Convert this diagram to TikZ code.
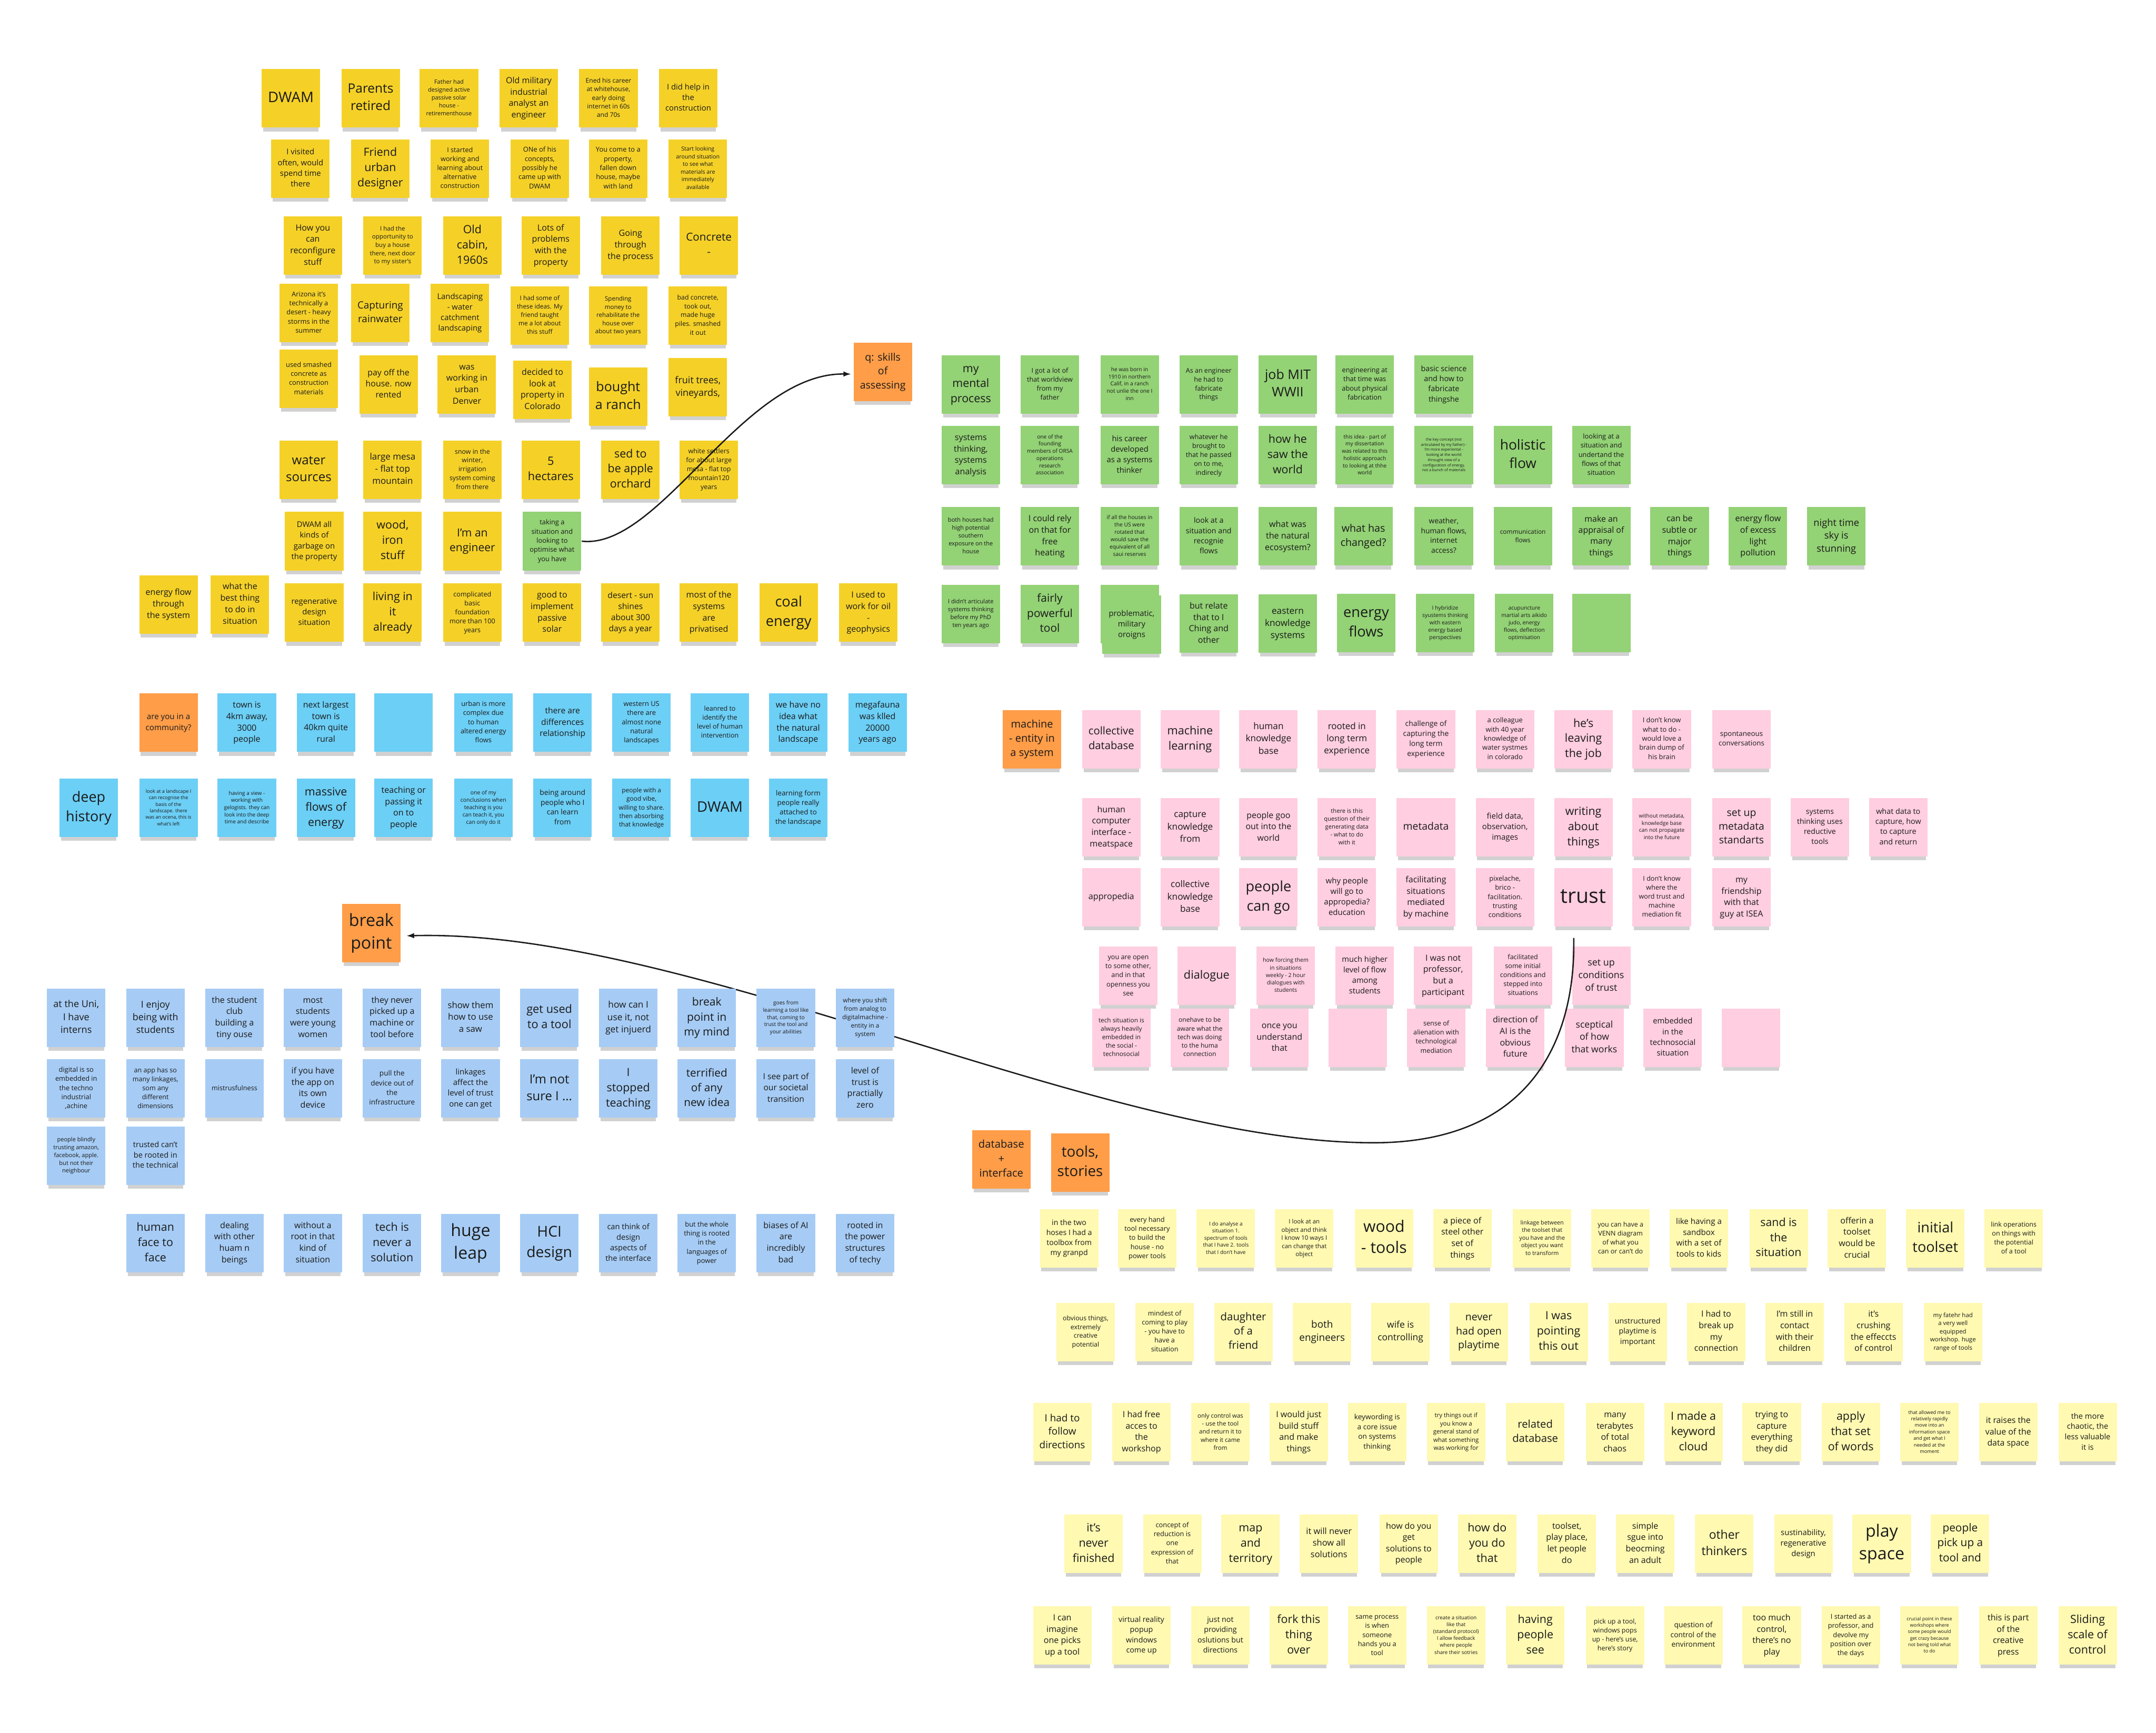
\documentclass[tikz,border=0pt]{standalone}
\usepackage{fontspec}
\setmainfont{Open Sans}
\usepackage{graphicx}
\usetikzlibrary{shadows,arrows.meta}

\definecolor{stickyyellow}{HTML}{F5D128}
\definecolor{stickylight}{HTML}{FFF9B1}
\definecolor{stickygreen}{HTML}{93D275}
\definecolor{stickycyan}{HTML}{6CCFF6}
\definecolor{stickyblue}{HTML}{A6CCF5}
\definecolor{stickypink}{HTML}{FFCEE0}
\definecolor{stickyorange}{HTML}{FF9D48}
\definecolor{ink}{HTML}{1A1A1A}

% text of a note is scaled to fill the note, like the board does
\newsavebox\notebox
\newdimen\notetw \notetw=0.83cm
\newdimen\noteth \noteth=0.83cm
\newdimen\fitw
\newcommand\fitnote[1]{%
  \sbox\notebox{\fontsize{10}{13.5}\selectfont
    \begin{tabular}{@{}c@{}}#1\end{tabular}}%
  \fitw=\dimexpr\wd\notebox*\numexpr\noteth\relax
        /\numexpr\ht\notebox+\dp\notebox\relax\relax
  \ifdim\fitw>\notetw \fitw=\notetw\fi
  \resizebox{\fitw}{!}{\usebox\notebox}}

\begin{document}
\begin{tikzpicture}[
    x=0.025cm, y=-0.025cm,
    note/.style={anchor=north west, minimum width=1.0625cm,
                 minimum height=1.0625cm, inner sep=0pt, text=ink,
                 general shadow={fill=black, opacity=0.18,
                   shadow yshift=-0.1cm, shadow scale=0.95}},
    ynote/.style={note, fill=stickyyellow},
    lnote/.style={note, fill=stickylight},
    gnote/.style={note, fill=stickygreen},
    cnote/.style={note, fill=stickycyan},
    bnote/.style={note, fill=stickyblue},
    pnote/.style={note, fill=stickypink},
    onote/.style={note, fill=stickyorange},
    link/.style={ink, line width=0.7pt},
    tip/.style={-{Latex[length=4pt, width=2.8pt]}}
]

\fill[white] (0,0) rectangle (1568,1260);
\useasboundingbox (0,0) rectangle (1568,1260);

% ---------- yellow: the place ----------
\foreach \x/\txt [count=\i] in {
  190/{DWAM},
  248/{Parents\\retired},
  305/{Father had\\designed active\\passive solar\\house -\\retirementhouse},
  363/{Old military\\industrial\\analyst an\\engineer},
  421/{Ened his career\\at whitehouse,\\early doing\\internet in 60s\\and 70s},
  479/{I did help in\\the\\construction}}
  \node[ynote] (ya\i) at (\x,50) {\fitnote{\txt}};

\foreach \x/\txt [count=\i] in {
  197/{I visited\\often, would\\spend time\\there},
  255/{Friend\\urban\\designer},
  313/{I started\\working and\\learning about\\alternative\\construction},
  371/{ONe of his\\concepts,\\possibly he\\came up with\\DWAM},
  428/{You come to a\\property,\\fallen down\\house, maybe\\with land},
  486/{Start looking\\around situation\\to see what\\materials are\\immediately\\available}}
  \node[ynote] (yb\i) at (\x,101) {\fitnote{\txt}};

\foreach \x/\txt [count=\i] in {
  206/{How you\\can\\reconfigure\\stuff},
  264/{I had the\\opportunity to\\buy a house\\there, next door\\to my sister's},
  322/{Old\\cabin,\\1960s},
  379/{Lots of\\problems\\with the\\property},
  437/{Going\\through\\the process},
  494/{Concrete\\-}}
  \node[ynote] (yc\i) at (\x,157) {\fitnote{\txt}};

\foreach \x/\y/\txt [count=\i] in {
  203/206/{Arizona it's\\technically a\\desert - heavy\\storms in the\\summer},
  255/206/{Capturing\\rainwater},
  313/206/{Landscaping\\- water\\catchment\\landscaping},
  371/208/{I had some of\\these ideas. My\\friend taught\\me a lot about\\this stuff},
  428/208/{Spending\\money to\\rehabilitate the\\house over\\about two years},
  486/208/{bad concrete,\\took out,\\made huge\\piles. smashed\\it out}}
  \node[ynote] (yd\i) at (\x,\y) {\fitnote{\txt}};

\foreach \x/\y/\txt [count=\i] in {
  203/254/{used smashed\\concrete as\\construction\\materials},
  261/258/{pay off the\\house. now\\rented},
  318/258/{was\\working in\\urban\\Denver},
  373/262/{decided to\\look at\\property in\\Colorado},
  428/267/{bought\\a ranch},
  486/260/{fruit trees,\\vineyards,}}
  \node[ynote] (ye\i) at (\x,\y) {\fitnote{\txt}};

\foreach \x/\txt [count=\i] in {
  203/{water\\sources},
  264/{large mesa\\- flat top\\mountain},
  322/{snow in the\\winter,\\irrigation\\system coming\\from there},
  379/{5\\hectares},
  437/{sed to\\be apple\\orchard},
  494/{white settlers\\for about large\\mesa - flat top\\mountain120\\years}}
  \node[ynote] (yf\i) at (\x,320) {\fitnote{\txt}};

\foreach \x/\txt [count=\i] in {
  207/{DWAM all\\kinds of\\garbage on\\the property},
  264/{wood,\\iron\\stuff},
  322/{I'm an\\engineer}}
  \node[ynote] (yg\i) at (\x,372) {\fitnote{\txt}};
\node[gnote] (taking) at (380,372)
  {\fitnote{taking a\\situation and\\looking to\\optimise what\\you have}};

\foreach \x/\y/\txt [count=\i] in {
  101/418/{energy flow\\through\\the system},
  153/418/{what the\\best thing\\to do in\\situation},
  207/424/{regenerative\\design\\situation},
  264/424/{living in\\it\\already},
  322/424/{complicated\\basic\\foundation\\more than 100\\years},
  380/424/{good to\\implement\\passive\\solar},
  437/424/{desert - sun\\shines\\about 300\\days a year},
  494/424/{most of the\\systems\\are\\privatised},
  552/424/{coal\\energy},
  610/424/{I used to\\work for oil\\-\\geophysics}}
  \node[ynote] (yh\i) at (\x,\y) {\fitnote{\txt}};

\node[onote] (skills) at (620.5,249) {\fitnote{q: skills\\of\\assessing}};

% ---------- green: systems thinking ----------
\foreach \x/\txt [count=\i] in {
  684.5/{my\\mental\\process},
  742/{I got a lot of\\that worldview\\from my\\father},
  800/{he was born in\\1910 in northern\\Calif, in a ranch\\not unlie the one I\\inn},
  857.5/{As an engineer\\he had to\\fabricate\\things},
  915/{job MIT\\WWII},
  971/{engineering at\\that time was\\about physical\\fabrication},
  1028.5/{basic science\\and how to\\fabricate\\thingshe}}
  \node[gnote] (ga\i) at (\x,258) {\fitnote{\txt}};

\foreach \x/\txt [count=\i] in {
  684.5/{systems\\thinking,\\systems\\analysis},
  742/{one of the\\founding\\members of ORSA\\operations\\research\\association},
  800/{his career\\developed\\as a systems\\thinker},
  857.5/{whatever he\\brought to\\that he passed\\on to me,\\indirecly},
  915/{how he\\saw the\\world},
  971/{this idea - part of\\my dissertation\\was related to this\\holistic approach\\to looking at thhe\\world},
  1028.5/{the key concept (not\\articulated by my father) -\\I'm more experiental -\\looking at the world\\throught view of a\\configuration of energy,\\not a bunch of materials},
  1086/{holistic\\flow},
  1143/{looking at a\\situation and\\undertand the\\flows of that\\situation}}
  \node[gnote] (gb\i) at (\x,309.5) {\fitnote{\txt}};

\foreach \x/\txt [count=\i] in {
  684.5/{both houses had\\high potential\\southern\\exposure on the\\house},
  742/{I could rely\\on that for\\free\\heating},
  800/{if all the houses in\\the US were\\rotated that\\would save the\\equivalent of all\\saui reserves},
  857.5/{look at a\\situation and\\recognie\\flows},
  915/{what was\\the natural\\ecosystem?},
  970/{what has\\changed?},
  1028.5/{weather,\\human flows,\\internet\\access?},
  1086/{communication\\flows},
  1143/{make an\\appraisal of\\many\\things},
  1200/{can be\\subtle or\\major\\things},
  1257/{energy flow\\of excess\\light\\pollution},
  1314/{night time\\sky is\\stunning}}
  \node[gnote] (gc\i) at (\x,368.5) {\fitnote{\txt}};

\foreach \x/\y/\txt [count=\i] in {
  684.5/425/{I didn't articulate\\systems thinking\\before my PhD\\ten years ago},
  742/425/{fairly\\powerful\\tool},
  857.5/432/{but relate\\that to I\\Ching and\\other},
  915/432/{eastern\\knowledge\\systems},
  972/431.5/{energy\\flows},
  1029.5/431.5/{I hybridize\\syustems thinking\\with eastern\\energy based\\perspectives},
  1087/431.5/{acupuncture\\martial arts aikido\\judo, energy\\flows, deflection\\optimisation}}
  \node[gnote] (gd\i) at (\x,\y) {\fitnote{\txt}};
\node[gnote] (gback) at (800,425) {};
\node[gnote] (gfront) at (801.5,432.5) {\fitnote{problematic,\\military\\oroigns}};
\node[gnote] (gblank) at (1143,431.5) {};

% ---------- cyan: landscape ----------
\node[onote] (community) at (101,504) {\fitnote{are you in a\\community?}};
\foreach \x/\txt [count=\i] in {
  158/{town is\\4km away,\\3000\\people},
  215.5/{next largest\\town is\\40km quite\\rural},
  330/{urban is more\\complex due\\to human\\altered energy\\flows},
  387.6/{there are\\differences\\relationship},
  445/{western US\\there are\\almost none\\natural\\landscapes},
  502/{leanred to\\identify the\\level of human\\intervention},
  559/{we have no\\idea what\\the natural\\landscape},
  616.7/{megafauna\\was klled\\20000\\years ago}}
  \node[cnote] (ca\i) at (\x,504) {\fitnote{\txt}};
\node[cnote] (cblank) at (272,504) {};

\foreach \x/\txt [count=\i] in {
  43/{deep\\history},
  101/{look at a landscape I\\can recognise the\\basis of the\\landscape. there\\was an ocena, this is\\what's left},
  158/{having a view -\\working with\\gelogists. they can\\look into the deep\\time and describe},
  215.5/{massive\\flows of\\energy},
  272/{teaching or\\passing it\\on to\\people},
  330/{one of my\\conclusions when\\teaching is you\\can teach it, you\\can only do it},
  387.6/{being around\\people who I\\can learn\\from},
  445/{people with a\\good vibe,\\willing to share.\\then absorbing\\that knowledge},
  502/{DWAM},
  559/{learning form\\people really\\attached to\\the landscape}}
  \node[cnote] (cb\i) at (\x,566) {\fitnote{\txt}};

% ---------- pink: knowledge and trust ----------
\node[onote] (machine) at (729,516) {\fitnote{machine\\- entity in\\a system}};
\foreach \x/\txt [count=\i] in {
  786.7/{collective\\database},
  844/{machine\\learning},
  901/{human\\knowledge\\base},
  958/{rooted in\\long term\\experience},
  1015.5/{challenge of\\capturing the\\long term\\experience},
  1073/{a colleague\\with 40 year\\knowledge of\\water systmes\\in colorado},
  1130/{he's\\leaving\\the job},
  1187/{I don't know\\what to do -\\would love a\\brain dump of\\his brain},
  1245/{spontaneous\\conversations}}
  \node[pnote] (pa\i) at (\x,516) {\fitnote{\txt}};

\foreach \x/\txt [count=\i] in {
  786.7/{human\\computer\\interface -\\meatspace},
  844/{capture\\knowledge\\from},
  901/{people goo\\out into the\\world},
  958/{there is this\\question of their\\generating data\\- what to do\\with it},
  1015.5/{metadata},
  1073/{field data,\\observation,\\images},
  1130/{writing\\about\\things},
  1187/{without metadata,\\knowledge base\\can not propagate\\into the future},
  1245/{set up\\metadata\\standarts},
  1302/{systems\\thinking uses\\reductive\\tools},
  1359/{what data to\\capture, how\\to capture\\and return}}
  \node[pnote] (pb\i) at (\x,580) {\fitnote{\txt}};

\foreach \x/\txt [count=\i] in {
  786.7/{appropedia},
  844/{collective\\knowledge\\base},
  901/{people\\can go},
  958/{why people\\will go to\\appropedia?\\education},
  1015.5/{facilitating\\situations\\mediated\\by machine},
  1073/{pixelache,\\brico -\\facilitation.\\trusting\\conditions},
  1187/{I don't know\\where the\\word trust and\\machine\\mediation fit},
  1245/{my\\friendship\\with that\\guy at ISEA}}
  \node[pnote] (pc\i) at (\x,631) {\fitnote{\txt}};
\node[pnote] (trust) at (1130,631) {\fitnote{trust}};

\foreach \x/\txt [count=\i] in {
  799/{you are open\\to some other,\\and in that\\openness you\\see},
  856/{dialogue},
  913.5/{how forcing them\\in situations\\weekly - 2 hour\\dialogues with\\students},
  971/{much higher\\level of flow\\among\\students},
  1028/{I was not\\professor,\\but a\\participant},
  1086/{facilitated\\some initial\\conditions and\\stepped into\\situations},
  1143/{set up\\conditions\\of trust}}
  \node[pnote] (pd\i) at (\x,688) {\fitnote{\txt}};

\foreach \x/\txt [count=\i] in {
  794/{tech situation is\\always heavily\\embedded in\\the social -\\technosocial},
  851/{onehave to be\\aware what the\\tech was doing\\to the huma\\connection},
  909/{once you\\understand\\that},
  1023/{sense of\\alienation with\\technological\\mediation},
  1080.5/{direction of\\AI is the\\obvious\\future},
  1138/{sceptical\\of how\\that works},
  1195/{embedded\\in the\\technosocial\\situation}}
  \node[pnote] (pe\i) at (\x,733) {\fitnote{\txt}};
\node[pnote] (pblank1) at (966,733) {};
\node[pnote] (pblank2) at (1252,733) {};

% ---------- light yellow: tools ----------
\node[onote] (database) at (706.7,821.7) {\fitnote{database\\+\\interface}};
\node[onote] (tools) at (764,823.8) {\fitnote{tools,\\stories}};

\foreach \x/\txt [count=\i] in {
  756/{in the two\\hoses I had a\\toolbox from\\my granpd},
  812.8/{every hand\\tool necessary\\to build the\\house - no\\power tools},
  870/{I do analyse a\\situation 1.\\spectrum of tools\\that I have 2. tools\\that I don't have},
  927/{I look at an\\object and think\\I know 10 ways I\\can change that\\object},
  985/{wood\\- tools},
  1042/{a piece of\\steel other\\set of\\things},
  1100/{linkage between\\the toolset that\\you have and the\\object you want\\to transform},
  1157/{you can have a\\VENN diagram\\of what you\\can or can't do},
  1214/{like having a\\sandbox\\with a set of\\tools to kids},
  1272/{sand is\\the\\situation},
  1329/{offerin a\\toolset\\would be\\crucial},
  1386/{initial\\toolset},
  1443/{link operations\\on things with\\the potential\\of a tool}}
  \node[lnote] (la\i) at (\x,879) {\fitnote{\txt}};

\foreach \x/\txt [count=\i] in {
  768/{obvious things,\\extremely\\creative\\potential},
  825.5/{mindest of\\coming to play\\- you have to\\have a\\situation},
  882.7/{daughter\\of a\\friend},
  940/{both\\engineers},
  997/{wife is\\controlling},
  1054/{never\\had open\\playtime},
  1112/{I was\\pointing\\this out},
  1169.5/{unstructured\\playtime is\\important},
  1226.6/{I had to\\break up\\my\\connection},
  1283.7/{I'm still in\\contact\\with their\\children},
  1341/{it's\\crushing\\the effeccts\\of control},
  1398.8/{my fatehr had\\a very well\\equipped\\workshop. huge\\range of tools}}
  \node[lnote] (lb\i) at (\x,947) {\fitnote{\txt}};

\foreach \x/\txt [count=\i] in {
  751/{I had to\\follow\\directions},
  808.6/{I had free\\acces to\\the\\workshop},
  866/{only control was\\- use the tool\\and return it to\\where it came\\from},
  923/{I would just\\build stuff\\and make\\things},
  980/{keywording is\\a core issue\\on systems\\thinking},
  1037.4/{try things out if\\you know a\\general stand of\\what something\\was working for},
  1095/{related\\database},
  1153/{many\\terabytes\\of total\\chaos},
  1210/{I made a\\keyword\\cloud},
  1267/{trying to\\capture\\everything\\they did},
  1324.5/{apply\\that set\\of words},
  1381.7/{that allowed me to\\relatively rapidly\\move into an\\information space\\and get what I\\needed at the\\moment},
  1439/{it raises the\\value of the\\data space},
  1496.7/{the more\\chaotic, the\\less valuable\\it is}}
  \node[lnote] (lc\i) at (\x,1020) {\fitnote{\txt}};

\foreach \x/\txt [count=\i] in {
  773.8/{it's\\never\\finished},
  831/{concept of\\reduction is\\one\\expression of\\that},
  888/{map\\and\\territory},
  945/{it will never\\show all\\solutions},
  1003/{how do you\\get\\solutions to\\people},
  1060/{how do\\you do\\that},
  1118/{toolset,\\play place,\\let people\\do},
  1175/{simple\\sgue into\\beocming\\an adult},
  1232.5/{other\\thinkers},
  1290/{sustinability,\\regenerative\\design},
  1347/{play\\space},
  1404/{people\\pick up a\\tool and}}
  \node[lnote] (ld\i) at (\x,1101) {\fitnote{\txt}};

\foreach \x/\txt [count=\i] in {
  751/{I can\\imagine\\one picks\\up a tool},
  808.6/{virtual reality\\popup\\windows\\come up},
  866/{just not\\providing\\oslutions but\\directions},
  923/{fork this\\thing\\over},
  980/{same process\\is when\\someone\\hands you a\\tool},
  1037.4/{create a situation\\like that\\(standard protocol)\\I allow feedback\\where people\\share their sotries},
  1095/{having\\people\\see},
  1153/{pick up a tool,\\windows pops\\up - here's use,\\here's story},
  1210/{question of\\control of the\\environment},
  1267/{too much\\control,\\there's no\\play},
  1324.5/{I started as a\\professor, and\\devolve my\\position over\\the days},
  1381.7/{crucial point in these\\workshops where\\some people would\\get crazy because\\not being told what\\to do},
  1439/{this is part\\of the\\creative\\press},
  1496.7/{Sliding\\scale of\\control}}
  \node[lnote] (le\i) at (\x,1167.7) {\fitnote{\txt}};

% ---------- connectors ----------
\node[onote] (breakpoint) at (248.5,657) {\fitnote{break\\point}};
\coordinate (dip) at (999,831);

\draw[link, tip] (taking.east) .. controls (480,400) and (540,271)
  .. ([shift={(-1.5,1.5)}]skills.west);
\draw[link, tip] ([shift={(-7,8)}]trust.south)
  .. controls (1146,760) and (1110,831) .. (dip)
  .. controls (800,831) and (500,675) .. ([shift={(4,2)}]breakpoint.east);

% ---------- blue: teaching and tools ----------
\foreach \x/\txt [count=\i] in {
  33.9/{at the Uni,\\I have\\interns},
  91.5/{I enjoy\\being with\\students},
  149/{the student\\club\\building a\\tiny ouse},
  206/{most\\students\\were young\\women},
  263.6/{they never\\picked up a\\machine or\\tool before},
  320.7/{show them\\how to use\\a saw},
  378/{get used\\to a tool},
  435.4/{how can I\\use it, not\\get injuerd},
  492.5/{break\\point in\\my mind},
  550/{goes from\\learning a tool like\\that, coming to\\trust the tool and\\your abilities},
  607.6/{where you shift\\from analog to\\digitalmachine -\\entity in a\\system}}
  \node[bnote] (ba\i) at (\x,718.6) {\fitnote{\txt}};

\foreach \x/\txt [count=\i] in {
  33.9/{digital is so\\embedded in\\the techno\\industrial\\,achine},
  91.5/{an app has so\\many linkages,\\som any\\different\\dimensions},
  149/{mistrusfulness},
  206/{if you have\\the app on\\its own\\device},
  263.6/{pull the\\device out of\\the\\infrastructure},
  320.7/{linkages\\affect the\\level of trust\\one can get},
  378/{I'm not\\sure I ...},
  435.4/{I\\stopped\\teaching},
  492.5/{terrified\\of any\\new idea},
  550/{I see part of\\our societal\\transition},
  607.6/{level of\\trust is\\practially\\zero}}
  \node[bnote] (bb\i) at (\x,770) {\fitnote{\txt}};

\node[bnote] (bc1) at (33.9,818.8)
  {\fitnote{people blindly\\trusting amazon,\\facebook, apple.\\but not their\\neighbour}};
\node[bnote] (bc2) at (91.5,818.8)
  {\fitnote{trusted can't\\be rooted in\\the technical}};

\foreach \x/\txt [count=\i] in {
  91.5/{human\\face to\\face},
  149/{dealing\\with other\\huam n\\beings},
  206/{without a\\root in that\\kind of\\situation},
  263.6/{tech is\\never a\\solution},
  320.7/{huge\\leap},
  378/{HCI\\design},
  435.4/{can think of\\design\\aspects of\\the interface},
  492.5/{but the whole\\thing is rooted\\in the\\languages of\\power},
  550/{biases of AI\\are\\incredibly\\bad},
  607.6/{rooted in\\the power\\structures\\of techy}}
  \node[bnote] (bd\i) at (\x,882.4) {\fitnote{\txt}};

\end{tikzpicture}
\end{document}
